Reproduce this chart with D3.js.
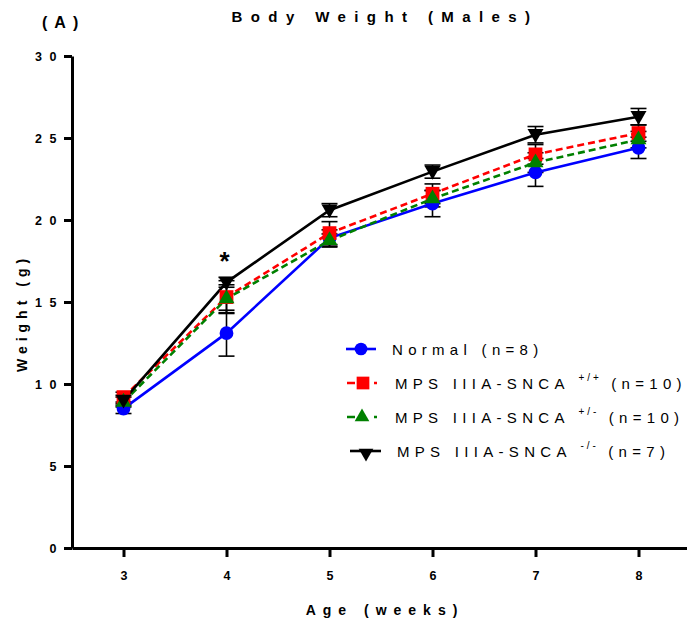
<!DOCTYPE html>
<html>
<head>
<meta charset="utf-8">
<script src="https://cdn.jsdelivr.net/npm/d3@7"></script>
<style>
  body { margin: 0; background: #fff; }
  svg { display: block; font-family: "Liberation Sans", Arial, sans-serif; }
</style>
</head>
<body>
<svg id="chart" width="687" height="626"></svg>
<script>
// Body weight of male mice, weeks 3–8 (mean ± SEM)
const weeks = [3, 4, 5, 6, 7, 8];
const yTicks = [0, 5, 10, 15, 20, 25, 30];

const normalMean = [8.5, 13.1, 18.9, 21.0, 22.9, 24.4];
const normalSem  = [0.3, 1.4, 0.5, 0.8, 0.85, 0.65];
const wtMean     = [9.2, 15.3, 19.2, 21.6, 24.0, 25.3];
const wtSem      = [0.3, 1.0, 0.7, 0.6, 0.6, 0.5];
const hetMean    = [8.9, 15.2, 18.75, 21.3, 23.5, 24.9];
const hetSem     = [0.3, 0.85, 0.4, 0.5, 0.6, 0.5];
const koMean     = [9.0, 16.2, 20.6, 22.95, 25.2, 26.3];
const koSem      = [0.3, 0.3, 0.4, 0.4, 0.5, 0.5];

const seriesNames = ["Normal", "MPS IIIA-SNCA", "MPS IIIA-SNCA", "MPS IIIA-SNCA"];
const seriesSup   = ["", "+/+", "+/-", "-/-"];
const seriesN     = ["(n=8)", "(n=10)", "(n=10)", "(n=7)"];

const series = [
  { mean: normalMean, sem: normalSem, color: "#0000ff", dash: null,  symbol: d3.symbolCircle,   size: 150 },
  { mean: wtMean,     sem: wtSem,     color: "#ff0000", dash: "7,4", symbol: d3.symbolSquare,   size: 190 },
  { mean: hetMean,    sem: hetSem,    color: "#008000", dash: "7,4", symbol: d3.symbolTriangle, size: 110 },
  { mean: koMean,     sem: koSem,     color: "#000000", dash: null,  symbol: d3.symbolTriangle, size: 110, flip: true }
];

const svg = d3.select("#chart");
const x = d3.scaleLinear().domain([2.5, 8.5]).range([72, 690]);
const y = d3.scaleLinear().domain([0, 30]).range([548, 56]);

// Title and panel letter
svg.append("text").attr("x", 385).attr("y", 22).attr("text-anchor", "middle")
  .style("font-size", "15px").style("font-weight", "bold").style("letter-spacing", "8.4px")
  .text("Body Weight (Males)");
svg.append("text").attr("x", 42).attr("y", 28)
  .style("font-size", "16px").style("font-weight", "bold").style("letter-spacing", "7px")
  .text("(A)");

// Axes
const yAxis = svg.append("g").attr("transform", "translate(72,0)")
  .call(d3.axisLeft(y).tickValues(yTicks).tickFormat(d3.format("d"))
    .tickSize(8).tickSizeOuter(0).tickPadding(6));
const xAxis = svg.append("g").attr("transform", "translate(0,548)")
  .call(d3.axisBottom(x).tickValues(weeks).tickFormat(d3.format("d"))
    .tickSize(9).tickSizeOuter(0).tickPadding(14));
[yAxis, xAxis].forEach(g => {
  g.select(".domain").attr("stroke", "#000").attr("stroke-width", 3);
  g.selectAll(".tick line").attr("stroke", "#000").attr("stroke-width", 3);
  g.selectAll(".tick text").attr("fill", "#000")
    .style("font-size", "12.5px").style("font-weight", "bold").style("letter-spacing", "7.5px")
    .style("font-family", "'Liberation Sans', Arial, sans-serif");
});
yAxis.selectAll(".tick text").attr("dx", "6px");
xAxis.selectAll(".tick text").attr("dx", "0px").style("letter-spacing", "0px");

// Axis titles
svg.append("text").attr("x", 385).attr("y", 615).attr("text-anchor", "middle")
  .style("font-size", "14px").style("font-weight", "bold").style("letter-spacing", "7px")
  .text("Age (weeks)");
svg.append("text").attr("transform", "translate(27,313) rotate(-90)").attr("text-anchor", "middle")
  .style("font-size", "14px").style("font-weight", "bold").style("letter-spacing", "5px")
  .text("Weight (g)");

// Error bars (black), lines, markers
const line = d3.line().x((d, i) => x(weeks[i])).y(d => y(d));
const capW = 8;

series.forEach(s => {
  const g = svg.append("g");
  s.mean.forEach((m, i) => {
    const cx = x(weeks[i]);
    const y0 = y(m - s.sem[i]), y1 = y(m + s.sem[i]);
    g.append("line").attr("x1", cx).attr("x2", cx).attr("y1", y0).attr("y2", y1)
      .attr("stroke", "#000").attr("stroke-width", 1.6);
    [y0, y1].forEach(yy => g.append("line").attr("x1", cx - capW).attr("x2", cx + capW)
      .attr("y1", yy).attr("y2", yy).attr("stroke", "#000").attr("stroke-width", 1.6));
  });
});

series.forEach(s => {
  svg.append("path").datum(s.mean).attr("d", line).attr("fill", "none")
    .attr("stroke", s.color).attr("stroke-width", 2.6)
    .attr("stroke-dasharray", s.dash);
});

series.forEach(s => {
  svg.append("g").selectAll("path").data(s.mean).join("path")
    .attr("d", d3.symbol().type(s.symbol).size(s.size))
    .attr("transform", (d, i) => `translate(${x(weeks[i])},${y(d) + (s.flip ? -1 : 0)})${s.flip ? " rotate(180)" : ""}`)
    .attr("fill", s.color);
});

// Significance marker at week 4
svg.append("text").attr("x", x(4) - 2).attr("y", y(koMean[1])).attr("dy", "-12px")
  .attr("text-anchor", "middle").style("font-size", "26px").style("font-weight", "bold")
  .text("*");

// Legend
const legY = [349, 383, 417, 451];
const legSym = [{ x1: 346, x2: 376, cx: 361, tx: 392 },
                { x1: 347, x2: 378, cx: 363, tx: 395 },
                { x1: 347, x2: 378, cx: 362, tx: 395 },
                { x1: 350, x2: 381, cx: 366, tx: 397 }];
series.forEach((s, k) => {
  const gy = legY[k], ls = legSym[k];
  svg.append("line").attr("x1", ls.x1).attr("x2", ls.x2).attr("y1", gy).attr("y2", gy)
    .attr("stroke", s.color).attr("stroke-width", 2.6)
    .attr("stroke-dasharray", s.dash ? "8,19,3,30" : null);
  svg.append("path").attr("d", d3.symbol().type(s.symbol).size(s.size * 0.85))
    .attr("transform", `translate(${ls.cx},${gy + (s.flip ? 2 : 0)})${s.flip ? " rotate(180)" : ""}`)
    .attr("fill", s.color);
  const t = svg.append("text").attr("x", ls.tx).attr("y", gy + 5.5)
    .style("font-size", "15px").style("letter-spacing", "5.3px");
  t.append("tspan").text(seriesNames[k] + " ");
  if (seriesSup[k]) {
    t.append("tspan").attr("dy", "-8").style("font-size", "10px").style("letter-spacing", "3px")
      .text(seriesSup[k]);
    t.append("tspan").attr("dy", "8").text(" " + seriesN[k]);
  } else {
    t.append("tspan").text(seriesN[k]);
  }
});
</script>
</body>
</html>
